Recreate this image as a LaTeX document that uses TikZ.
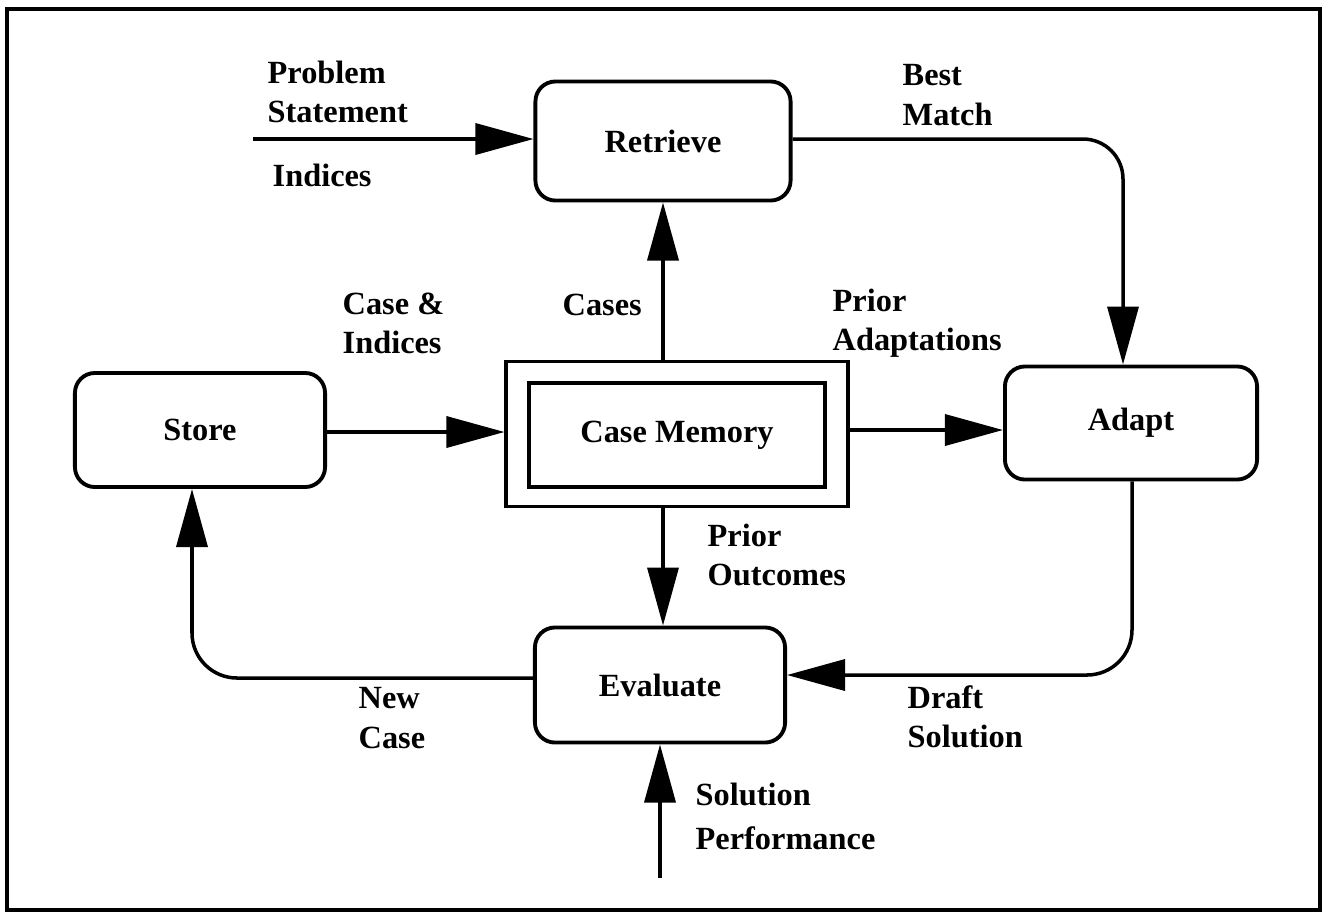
\documentclass[tikz,border=0pt]{standalone}
\usepackage{fontspec}
\setmainfont{Liberation Serif}
\usetikzlibrary{arrows.meta}
\begin{document}
\begin{tikzpicture}[x=0.01cm,y=-0.01cm,
  every node/.style={font=\fontsize{9.2}{11.2}\selectfont\bfseries},
  proc/.style={draw,line width=1.1pt,rounded corners=0.2cm,inner sep=0},
  sq/.style={draw,line width=1.1pt,inner sep=0},
  conn/.style={line width=1pt,-{Triangle[length=0.58cm,width=0.31cm]}},
  lbl/.style={anchor=north west,inner sep=0,align=left}]
\useasboundingbox (0,0) rectangle (1324,911);
\draw[line width=1pt] (7,9) rectangle (1320,910);
% boxes
\node[proc,minimum width=2.55cm,minimum height=1.19cm] (rt) at (663,141) {Retrieve};
\node[proc,minimum width=2.5cm,minimum height=1.14cm] (st) at (200,430) {Store};
\node[sq,minimum width=3.41cm,minimum height=1.45cm] (cm) at (677,434) {};
\node[sq,minimum width=2.95cm,minimum height=1.04cm] (cmi) at (677,435) {Case Memory};
\node[proc,minimum width=2.52cm,minimum height=1.13cm] (ad) at (1131,423) {Adapt};
\node[proc,minimum width=2.5cm,minimum height=1.15cm] (ev) at (660,685) {Evaluate};
% helper coordinates
\coordinate (ps) at (253,139);
\coordinate (bm) at (1123,0);
\coordinate (cx) at (663,0);
\coordinate (ds) at (1132,675);
\coordinate (nc) at (192,678);
\coordinate (sp) at (660,878);
% connectors
\draw[conn] (ps) -- (rt.west |- ps);
\draw[conn,rounded corners=0.4cm] (rt.east |- ps) -| (bm |- ad.north);
\draw[conn] (cx |- cm.north) -- (cx |- rt.south);
\draw[conn] (cx |- cm.south) -- (cx |- ev.north);
\draw[conn] (st.east |- 0,432) -- (cm.west |- 0,432);
\draw[conn] (cm.east |- 0,430) -- (ad.west |- 0,430);
\draw[conn,rounded corners=0.45cm] (ds |- ad.south) -- (ds) -- (ev.east |- ds);
\draw[conn,rounded corners=0.45cm] (ev.west |- nc) -- (nc) -- (nc |- st.south);
\draw[conn] (sp) -- (sp |- ev.south);
% labels
\node[lbl] (l1) at (267,60) {Problem\\Statement};
\node[lbl] (l2) at (272,163) {Indices};
\node[lbl] (l3) at (902,64) {Best\\Match};
\node[lbl] (l4) at (562,293) {Cases};
\node[lbl] (l5) at (342,292) {Case \&\\Indices};
\node[lbl] (l6) at (832,288) {Prior\\Adaptations};
\node[lbl] (l7) at (707,523) {Prior\\Outcomes};
\node[lbl] (l8) at (358,687) {New\\Case};
\node[lbl] (l9) at (907,685) {Draft\\Solution};
\node[lbl] (l10) at (695,782) {Solution\\[1.4pt]Performance};
\end{tikzpicture}
\end{document}
